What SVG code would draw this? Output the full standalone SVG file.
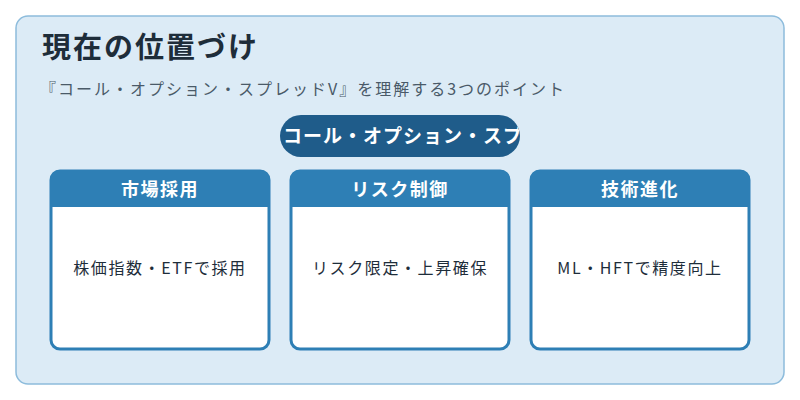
<svg xmlns="http://www.w3.org/2000/svg" width="800" height="400" viewBox="0 0 800 400">
<defs>
<style>
.t{font-family:"Noto Sans CJK JP","Noto Sans",sans-serif}
.hd{fill:#2e7fb5}
.card{fill:#fff;stroke:#2e7fb5;stroke-width:3}
.ht{font-size:18px;font-weight:bold;fill:#fff;text-anchor:middle;letter-spacing:1.5px}
.bt{font-size:16px;fill:#1e2d3a;text-anchor:middle;letter-spacing:1.6px}
</style>
<clipPath id="pc"><rect x="280" y="115" width="240" height="42" rx="21"/></clipPath>
</defs>
<rect width="800" height="400" fill="#fff"/>
<rect x="16" y="16" width="768" height="368" rx="12" fill="#dcebf6" stroke="#8dbcdc" stroke-width="1.5"/>
<text class="t" x="42" y="58" font-size="29" font-weight="bold" fill="#1e2d3a" letter-spacing="2">現在の位置づけ</text>
<text class="t" x="40" y="95" font-size="16" fill="#4a5a68" letter-spacing="2">『コール・オプション・スプレッドV』を理解する3つのポイント</text>
<g id="pill">
<rect x="280" y="115" width="240" height="42" rx="21" fill="#1f5c8a"/>
<text class="t" x="283" y="143" font-size="19" font-weight="bold" fill="#fff" clip-path="url(#pc)" letter-spacing="1">コール・オプション・スプレッドV</text>
</g>
<g id="card1">
<rect class="card" x="51" y="171" width="218" height="178" rx="9"/>
<path class="hd" d="M50 180a10 10 0 0 1 10-10h200a10 10 0 0 1 10 10v27H50z"/>
<text class="t ht" x="160" y="196">市場採用</text>
<text class="t bt" x="160" y="274">株価指数・ETFで採用</text>
</g>
<g id="card2">
<rect class="card" x="291" y="171" width="218" height="178" rx="9"/>
<path class="hd" d="M290 180a10 10 0 0 1 10-10h200a10 10 0 0 1 10 10v27H290z"/>
<text class="t ht" x="400" y="196">リスク制御</text>
<text class="t bt" x="400" y="274">リスク限定・上昇確保</text>
</g>
<g id="card3">
<rect class="card" x="531" y="171" width="218" height="178" rx="9"/>
<path class="hd" d="M530 180a10 10 0 0 1 10-10h200a10 10 0 0 1 10 10v27H530z"/>
<text class="t ht" x="640" y="196">技術進化</text>
<text class="t bt" x="640" y="274">ML・HFTで精度向上</text>
</g>
<g id="connectors"/>
</svg>
